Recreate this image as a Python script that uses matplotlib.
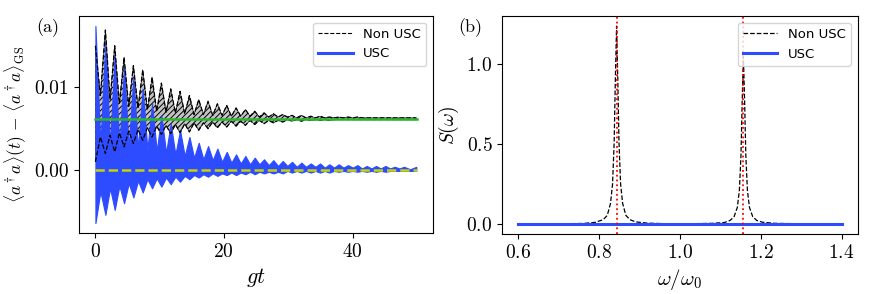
import numpy as np
import matplotlib
matplotlib.use("Agg")
import matplotlib.pyplot as plt
from matplotlib.lines import Line2D

plt.rcParams['font.family'] = 'serif'
plt.rcParams['font.serif'] = ['cmr10']
plt.rcParams['mathtext.fontset'] = 'cm'
plt.rcParams['axes.formatter.use_mathtext'] = True
plt.rcParams['hatch.linewidth'] = 0.7

# ---- panel (a): beat times, envelope peaks and troughs
beat_t = [0.05, 1.6, 3.05, 4.5, 5.95, 7.4, 8.85, 10.3, 11.75, 13.2,
          14.65, 16.1, 17.55, 19.0, 20.45, 21.9, 23.35, 24.8, 26.25, 27.7,
          29.15, 30.6, 32.05, 33.5, 34.95, 36.4, 37.85, 39.3, 40.75, 42.2,
          43.65, 45.1, 46.55, 48.0, 49.9]

usc_peak_hi = [0.0174, 0.0155, 0.0139, 0.0124, 0.0112, 0.0098, 0.0080, 0.0066, 0.0056, 0.0048,
               0.0040, 0.0033, 0.0029, 0.0026, 0.0022, 0.0019, 0.0017, 0.0015, 0.0013, 0.0012,
               0.0011, 0.0010, 0.0009, 0.0008, 0.0008, 0.0007, 0.0007, 0.0006, 0.0006, 0.0005,
               0.0005, 0.0005, 0.0004, 0.0004, 0.0004]
usc_peak_lo = [-0.0064, -0.0054, -0.0048, -0.0040, -0.0033, -0.0027, -0.0022, -0.0020, -0.0017, -0.0014,
               -0.0011, -0.0009, -0.0008, -0.0007, -0.0006, -0.0006, -0.0005, -0.0005, -0.0004, -0.0004,
               -0.0004, -0.0003, -0.0003, -0.0003, -0.0003, -0.0003, -0.0002, -0.0002, -0.0002, -0.0002,
               -0.0002, -0.0002, -0.0001, -0.0001, -0.0001]
usc_trough_hi = [0.0030, 0.0029, 0.0028, 0.0027, 0.0026, 0.0025, 0.0023, 0.0021, 0.0019, 0.0017,
                 0.0015, 0.0013, 0.0012, 0.0010, 0.0009, 0.0008, 0.0007, 0.0007, 0.0006, 0.0005,
                 0.0005, 0.0004, 0.0004, 0.0004, 0.0003, 0.0003, 0.0003, 0.0003, 0.0002, 0.0002,
                 0.0002, 0.0002, 0.0002, 0.0001]
usc_trough_lo = [-0.0026, -0.0022, -0.0019, -0.0016, -0.0013, -0.0011, -0.0010, -0.0009, -0.0008, -0.0007,
                 -0.0006, -0.0005, -0.0004, -0.0004, -0.0003, -0.0003, -0.0002, -0.0002, -0.0002, -0.0002,
                 -0.0001, -0.0001, -0.0001, -0.0001, -0.0001, -0.0001, -0.0001, -0.0001, -0.0001, -0.0001,
                 -0.0001, -0.0001, -0.0001, -0.0001]

non_peak_hi = [0.0150, 0.0169, 0.0150, 0.0136, 0.0126, 0.0121, 0.0112, 0.0105, 0.0098, 0.0095,
               0.0090, 0.0085, 0.0083, 0.0080, 0.0078, 0.0075, 0.0073, 0.0071, 0.0069, 0.0068,
               0.0067, 0.0066, 0.0066, 0.0065, 0.0065, 0.0064, 0.0064, 0.0064, 0.0064, 0.0063,
               0.0063, 0.0063, 0.0063, 0.0063, 0.0063]
non_peak_lo = [0.0010, 0.0020, 0.0022, 0.0028, 0.0032, 0.0036, 0.0040, 0.0043, 0.0044, 0.0045,
               0.0046, 0.0048, 0.0050, 0.0051, 0.0052, 0.0053, 0.0054, 0.0055, 0.0056, 0.0057,
               0.0058, 0.0059, 0.0059, 0.0060, 0.0060, 0.0060, 0.0061, 0.0061, 0.0061, 0.0061,
               0.0061, 0.0061, 0.0061, 0.0061, 0.0061]
non_trough_hi = [0.0090, 0.0085, 0.0080, 0.0077, 0.0075, 0.0073, 0.0071, 0.0070, 0.0069, 0.0068,
                 0.0067, 0.0067, 0.0066, 0.0066, 0.0065, 0.0065, 0.0065, 0.0064, 0.0064, 0.0064,
                 0.0064, 0.0063, 0.0063, 0.0063, 0.0063, 0.0063, 0.0063, 0.0063, 0.0063, 0.0063,
                 0.0063, 0.0063, 0.0063, 0.0063]
non_trough_lo = [0.0040, 0.0042, 0.0045, 0.0047, 0.0049, 0.0051, 0.0053, 0.0054, 0.0055, 0.0056,
                 0.0057, 0.0057, 0.0058, 0.0058, 0.0059, 0.0059, 0.0060, 0.0060, 0.0060, 0.0060,
                 0.0061, 0.0061, 0.0061, 0.0061, 0.0061, 0.0061, 0.0061, 0.0061, 0.0061, 0.0061,
                 0.0061, 0.0061, 0.0061, 0.0061]

t_range = [0, 50]
steady_non = 0.0062
steady_usc = 0.0

# ---- panel (b): spectrum
w = [0.60, 0.70, 0.76, 0.79, 0.81, 0.82, 0.828, 0.833, 0.837, 0.840,
     0.843, 0.846, 0.849, 0.853, 0.858, 0.866, 0.876, 0.89, 0.92, 0.96,
     1.00, 1.04, 1.08, 1.11, 1.124, 1.134, 1.142, 1.147, 1.151, 1.154,
     1.157, 1.160, 1.163, 1.167, 1.172, 1.180, 1.190, 1.204, 1.234, 1.30, 1.40]
S_non = [0.001, 0.002, 0.004, 0.011, 0.028, 0.055, 0.13, 0.25, 0.51, 0.91,
         1.24, 0.91, 0.51, 0.25, 0.13, 0.055, 0.028, 0.014, 0.006, 0.003,
         0.002, 0.003, 0.005, 0.010, 0.023, 0.047, 0.105, 0.21, 0.43, 0.77,
         1.05, 0.77, 0.43, 0.21, 0.105, 0.047, 0.023, 0.012, 0.005, 0.002, 0.001]
w_usc = [0.6, 1.4]
S_usc = [0.0, 0.0]
w_lines = [0.843, 1.157]


def zigzag(tb, peak, trough):
    t, v = [], []
    for i in range(len(tb)):
        t.append(tb[i]); v.append(peak[i])
        if i < len(trough):
            t.append(0.5 * (tb[i] + tb[i + 1])); v.append(trough[i])
    return np.array(t), np.array(v)


blue = '#2d4bff'
leg_font = {'family': 'DejaVu Sans', 'size': 9.5}

fig = plt.figure(figsize=(8.72, 2.94), dpi=100)
ax1 = fig.add_axes([0.0906, 0.2075, 0.406, 0.738])
ax2 = fig.add_axes([0.576, 0.204, 0.4076, 0.741])

tn, nhi = zigzag(beat_t, non_peak_hi, non_trough_hi)
_, nlo = zigzag(beat_t, non_peak_lo, non_trough_lo)
ax1.fill_between(tn, nlo, nhi, facecolor='#c4c4c4', edgecolor='black', hatch='//////',
                 linewidth=0.4)
ax1.plot(tn, nhi, color='black', lw=0.9, ls='--')
ax1.plot(tn, nlo, color='black', lw=0.9, ls='--')

tu, uhi = zigzag(beat_t, usc_peak_hi, usc_trough_hi)
_, ulo = zigzag(beat_t, usc_peak_lo, usc_trough_lo)
ax1.fill_between(tu, ulo, uhi, color=blue, linewidth=0.8)

ax1.plot(t_range, [steady_non, steady_non], color='#2db52d', lw=1.8)
ax1.plot(t_range, [steady_usc, steady_usc], color='#c8d400', lw=1.8, ls='--')

ax1.set_xticks([0, 20, 40])
ax1.set_yticks([0.0, 0.01])
ax1.set_yticklabels(['0.00', '0.01'])
ax1.tick_params(labelsize=14)
ax1.set_xlabel('$gt$', fontsize=16)
ax1.set_ylabel(r'$\langle a^\dagger a\rangle(t)\,-\,\langle a^\dagger a\rangle_{\rm GS}$', fontsize=12.5)
handles = [Line2D([], [], color='black', lw=0.8, ls='--'), Line2D([], [], color=blue, lw=2.2)]
ax1.legend(handles, ['Non USC', 'USC'], loc='upper right', prop=leg_font, handlelength=2.6)
fig.text(0.041, 0.89, '(a)', fontsize=13)

ax2.plot(w, S_non, color='black', lw=0.9, ls='--', label='Non USC')
ax2.plot(w_usc, S_usc, color=blue, lw=2.2, label='USC')
for wl in w_lines:
    ax2.axvline(wl, color='red', ls=':', lw=1.3)
ax2.set_xticks([0.6, 0.8, 1.0, 1.2, 1.4])
ax2.set_yticks([0.0, 0.5, 1.0])
ax2.tick_params(labelsize=14)
ax2.set_xlabel(r'$\omega/\omega_0$', fontsize=15)
ax2.set_ylabel(r'$S(\omega)$', fontsize=14)
ax2.legend(loc='upper right', prop=leg_font, handlelength=2.6)
fig.text(0.525, 0.89, '(b)', fontsize=13)

fig.savefig('out.png', dpi=100)
